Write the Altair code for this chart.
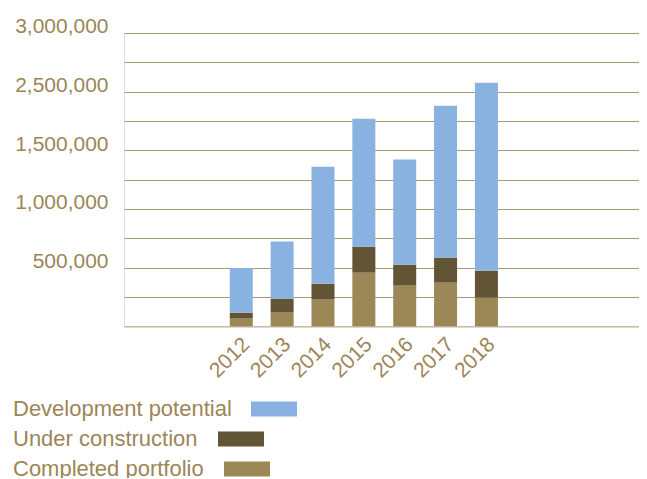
import altair as alt
import pandas as pd

years = [2012, 2013, 2014, 2015, 2016, 2017, 2018]
completed = [66000, 117000, 228000, 458000, 347000, 372000, 245000]
under_construction = [51000, 119000, 136000, 221000, 179000, 214000, 230000]
development = [381000, 486000, 997000, 1091000, 895000, 1295000, 1602000]

series = ["Development potential", "Under construction", "Completed portfolio"]
colors = ["#8ab2e0", "#625536", "#9c8757"]
stack_rank = {"Completed portfolio": 0, "Under construction": 1, "Development potential": 2}

# legend swatch shapes (unit path, drawn right after each label)
swatch_paths = ["M49.8,-1.5H59.0V1.5H49.8Z",
                "M43.2,-1.5H52.4V1.5H43.2Z",
                "M44.4,-1.5H53.6V1.5H44.4Z"]

y_ticks = [0, 250000, 500000, 750000, 1000000, 1250000, 1500000,
           1750000, 2000000, 2250000, 2500000]
y_tick_text = {500000: "500,000", 1000000: "1,000,000", 1500000: "1,500,000",
               2000000: "2,500,000", 2500000: "3,000,000"}

TEXT = "#9c8658"
GRID = "#a8976f"
FONT = "Liberation Sans"

rows = []
for i, yr in enumerate(years):
    for name, vals in (("Completed portfolio", completed),
                       ("Under construction", under_construction),
                       ("Development potential", development)):
        rows.append({"year": yr, "series": name, "value": vals[i],
                     "rank": stack_rank[name]})
df = pd.DataFrame(rows)

label_expr = " : ".join(
    f"datum.value == {k} ? '{v}'" for k, v in y_tick_text.items()
) + " : ''"

legend = alt.Legend(orient="none", legendX=-133, legendY=365,
                    direction="vertical", title=None,
                    symbolSize=100, symbolStrokeWidth=0,
                    symbolOpacity=1, labelOffset=0, labelFontSize=22,
                    labelColor=TEXT, labelFont=FONT, labelLimit=0,
                    rowPadding=8)

color = alt.Color("series:N", scale=alt.Scale(domain=series, range=colors),
                  legend=legend)

x_enc = alt.X("year:Q",
              scale=alt.Scale(domain=[2009.252, 2021.612], nice=False, zero=False),
              axis=alt.Axis(values=years, format="d", labelAngle=-45, ticks=False,
                            grid=False, title=None, domain=True,
                            domainColor="#c9bea3", domainWidth=1.5,
                            labelFontSize=21, labelColor=TEXT, labelFont=FONT,
                            labelPadding=7, labelOffset=-3, labelOverlap=False))
y_enc = alt.Y("value:Q", stack="zero",
              scale=alt.Scale(domain=[0, 2500000], nice=False),
              axis=alt.Axis(values=y_ticks, labelExpr=label_expr, grid=True,
                            gridColor=GRID, gridWidth=1, ticks=False, domain=False,
                            title=None, labelFontSize=21, labelColor=TEXT,
                            labelFont=FONT, labelPadding=16,
                            labelBaseline="alphabetic"))

bars = alt.Chart(df).mark_bar(size=23).encode(
    x=x_enc, y=y_enc, color=color, order=alt.Order("rank:Q"),
)

keys = alt.Chart(df).mark_point(filled=True, opacity=0, size=1).encode(
    x=x_enc, y=y_enc, color=color,
    shape=alt.Shape("series:N", scale=alt.Scale(domain=series, range=swatch_paths),
                    legend=legend),
    order=alt.Order("rank:Q"),
)

chart = alt.layer(bars, keys).properties(
    width=515, height=293.33,
    autosize=alt.AutoSizeParams(type="none"),
    padding={"left": 116, "top": 25, "right": 0, "bottom": 152},
).configure_view(stroke=None).configure(font=FONT)

chart.save("out.html", embed_options={"renderer": "svg", "actions": False})
